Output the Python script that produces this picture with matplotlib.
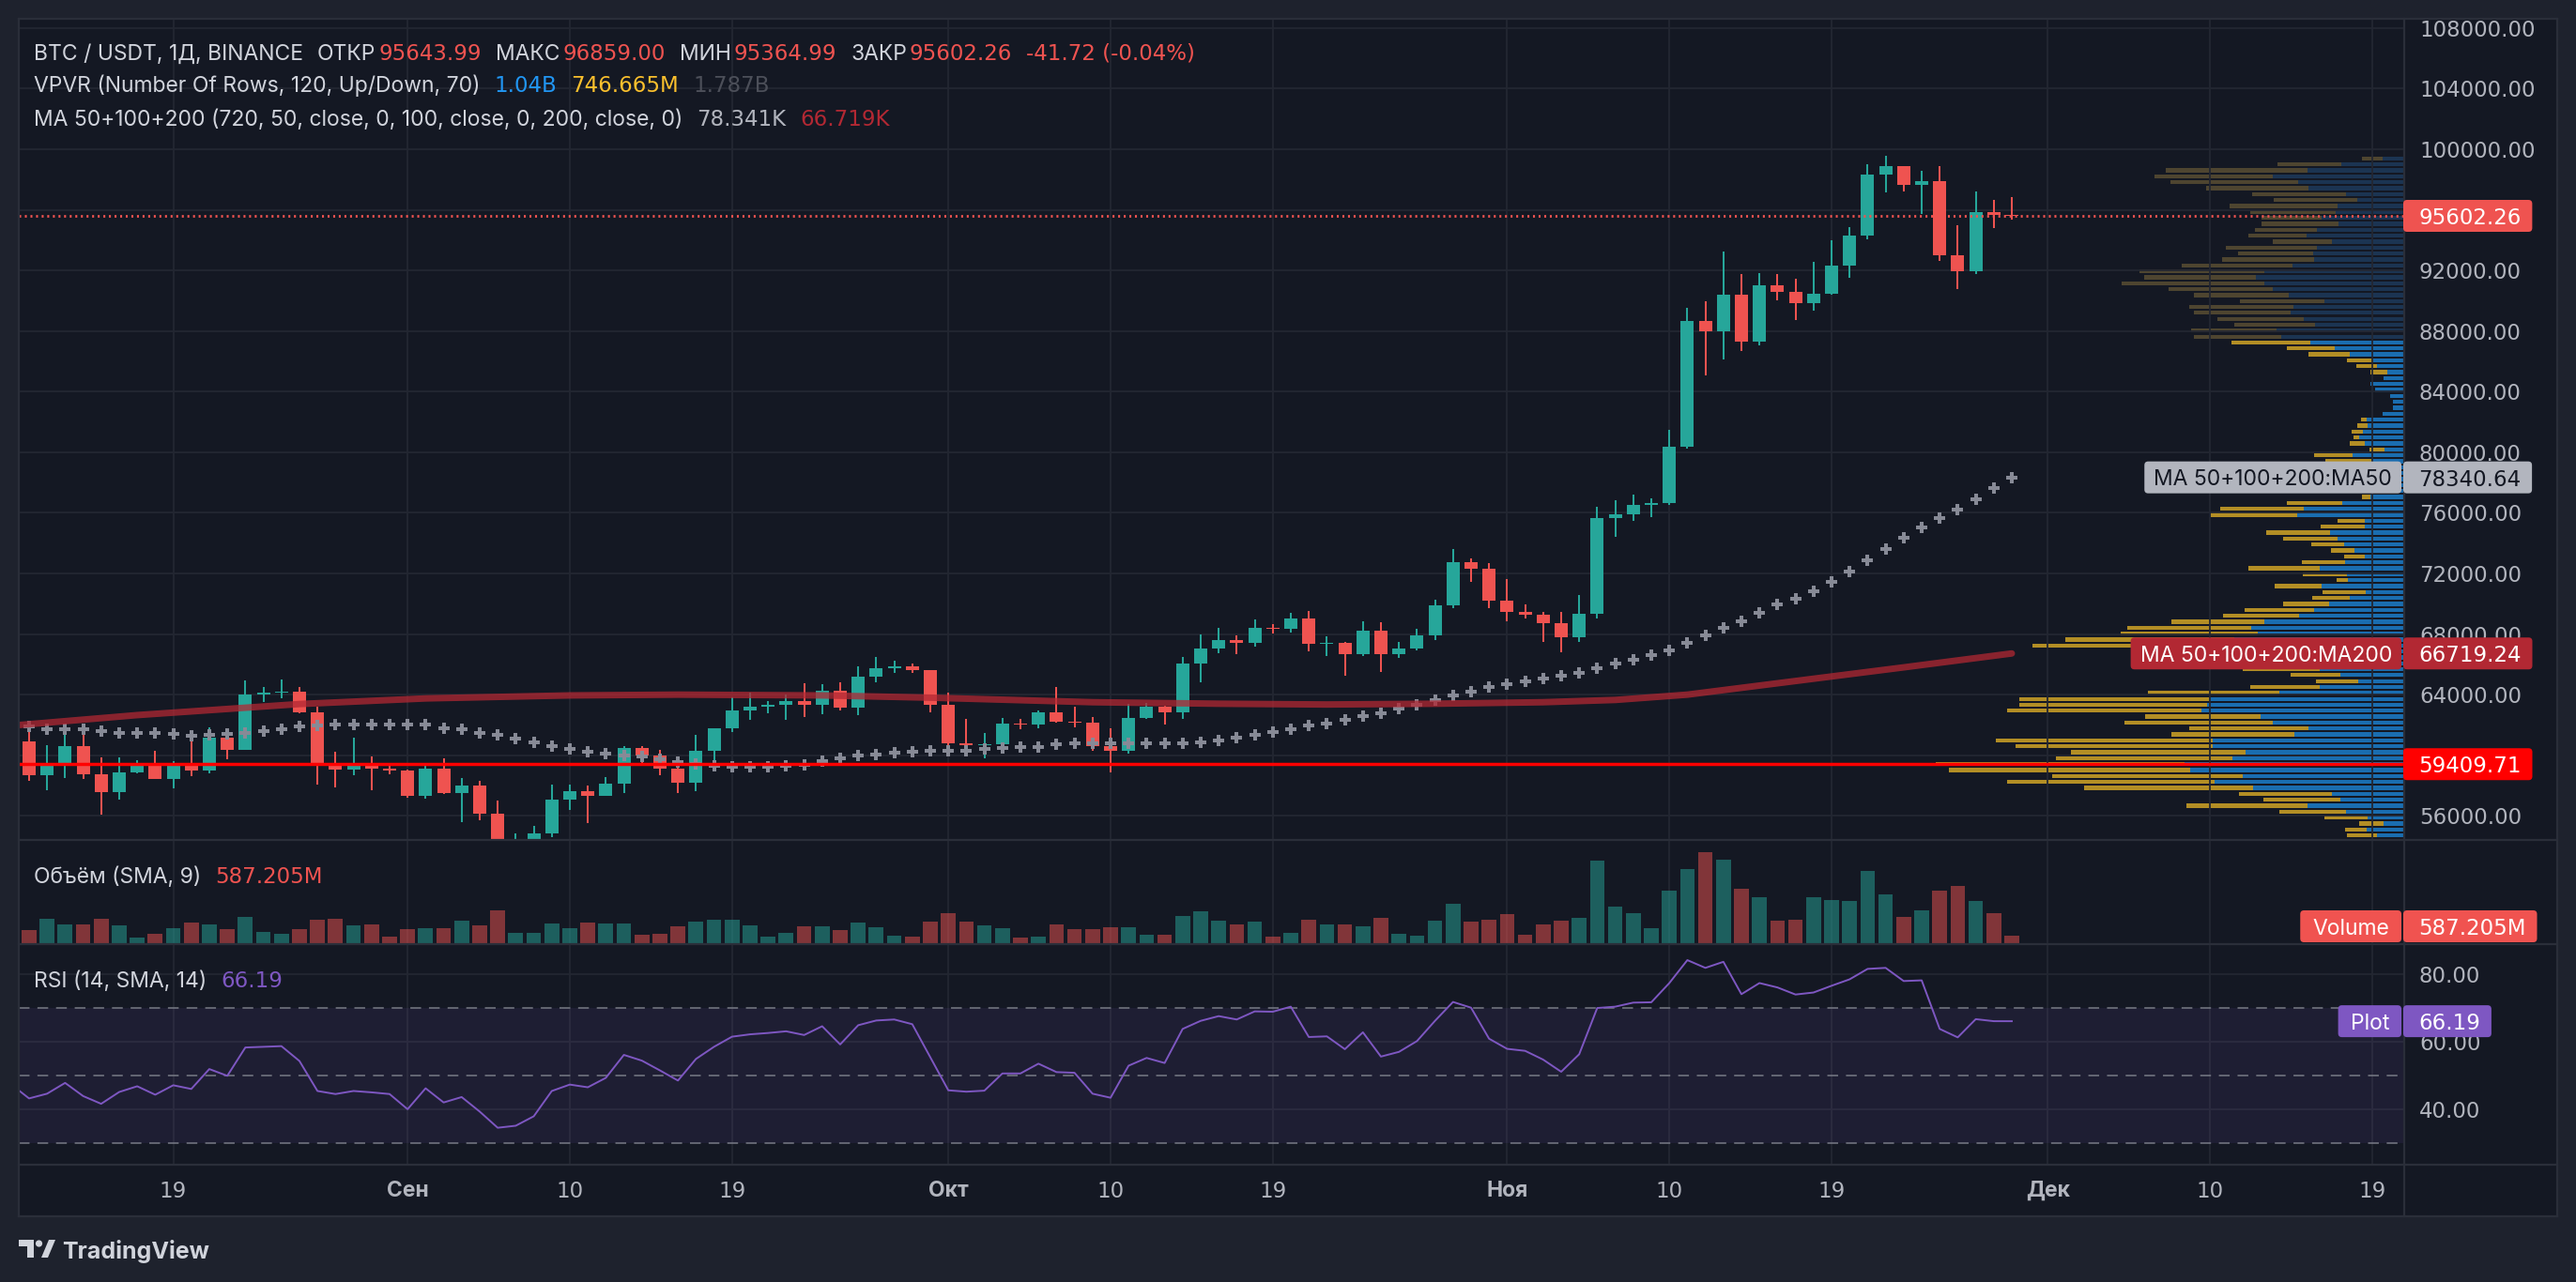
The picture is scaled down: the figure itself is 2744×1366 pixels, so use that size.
import numpy as np
import pandas as pd
import matplotlib
matplotlib.use('Agg')
import matplotlib.pyplot as plt
import matplotlib.dates as mdates
from matplotlib.patches import FancyBboxPatch, Rectangle, Polygon, Circle
from matplotlib.lines import Line2D
from matplotlib.transforms import IdentityTransform

plt.rcParams['font.family'] = ['Inter', 'DejaVu Sans']

W, H = 2744, 1366
FS = 16.5
NUM = ['DejaVu Sans']   # wide digits, closer to the original UI font

# ---------------- data (BTC/USDT daily, 2024-08-11 .. 2024-11-29) ----------------
opens = [60932, 58713, 59351, 60609, 58737, 57561, 58874, 59491, 58427, 59438,
         59013, 61156, 60375, 64037, 64157, 64220, 62834, 59415, 59034, 59359,
         59123, 58974, 57301, 59132, 57487, 57971, 56160, 53962, 54160, 54869,
         57042, 57635, 57338, 58132, 60498, 59993, 59132, 58213, 60309, 61759,
         62947, 63201, 63348, 63578, 63339, 64262, 63152, 65173, 65769, 65858,
         65602, 63327, 60805, 60649, 60752, 62086, 62058, 62819, 62224, 62131,
         60583, 60275, 62445, 63193, 62851, 66046, 67041, 67612, 67399, 68418,
         68362, 69001, 67368, 67400, 66653, 68198, 66699, 67045, 67929, 69908,
         72720, 72340, 70216, 69482, 69289, 68742, 67811, 69359, 75640, 75905,
         76538, 76649, 80370, 88648, 87952, 90375, 87325, 91032, 90587, 89855,
         90465, 92310, 94286, 98318, 98893, 97673, 97900, 93010, 91965, 95863,
         95643.99]
highs = [61858, 60680, 61572, 61800, 59850, 59850, 59700, 60284, 59617, 61400,
         61820, 61400, 64955, 64494, 65000, 64481, 63213, 60234, 61166, 59944,
         59462, 59076, 59425, 59809, 58519, 58300, 56995, 54850, 55318, 58088,
         58044, 57981, 58588, 60625, 60610, 60381, 59210, 61320, 61786, 63850,
         64133, 63559, 64000, 64745, 64688, 64817, 65839, 66498, 66260, 66076,
         65618, 64130, 62370, 61470, 62484, 62370, 62975, 64478, 63200, 62508,
         61750, 63417, 63480, 63276, 66500, 67950, 68424, 67939, 68969, 68668,
         69400, 69500, 67836, 67472, 68850, 68800, 67454, 68332, 70270, 73620,
         72962, 72700, 71632, 69934, 69483, 69433, 70577, 76400, 76850, 77199,
         76955, 81500, 89530, 89940, 93265, 91790, 91850, 91779, 91449, 92595,
         94002, 94831, 98988, 99588, 98899, 98564, 98871, 94973, 97208, 96650,
         96859.00]
lows = [58286, 57688, 58506, 58433, 56078, 57098, 58785, 58408, 57787, 58610,
        58783, 59724, 60342, 63531, 63773, 62800, 58034, 57860, 58713, 57701,
        58744, 57201, 57128, 57415, 55606, 55712, 52550, 53745, 53629, 54591,
        56386, 55545, 57324, 57493, 59400, 58696, 57493, 57610, 59174, 61555,
        62350, 62758, 62357, 62538, 62700, 62947, 62670, 64819, 65422, 65432,
        62857, 60164, 59982, 59828, 60459, 61689, 61798, 62128, 61860, 60314,
        58895, 60087, 62414, 62034, 62422, 64800, 66750, 66666, 67177, 68020,
        68100, 66835, 66571, 65260, 66559, 65500, 66439, 66913, 67618, 69730,
        71436, 69685, 68820, 69000, 67458, 66803, 67458, 69050, 74416, 75463,
        75700, 76492, 80216, 85072, 86127, 86668, 87073, 90056, 88722, 89376,
        90406, 91500, 94040, 97122, 97216, 95734, 92600, 90791, 91792, 94827,
        95364.99]
closes = [58713, 59351, 60609, 58737, 57561, 58874, 59491, 58427, 59438, 59013,
          61156, 60375, 64037, 64157, 64220, 62834, 59415, 59034, 59359, 59123,
          58974, 57301, 59132, 57487, 57971, 56160, 53962, 54160, 54869, 57042,
          57635, 57338, 58132, 60498, 59993, 59132, 58213, 60309, 61759, 62947,
          63201, 63348, 63578, 63339, 64262, 63152, 65173, 65769, 65858, 65602,
          63327, 60805, 60649, 60752, 62086, 62058, 62819, 62224, 62131, 60583,
          60275, 62445, 63193, 62851, 66046, 67041, 67612, 67399, 68418, 68362,
          69001, 67368, 67400, 66653, 68198, 66699, 67045, 67929, 69907, 72720,
          72340, 70215, 69482, 69289, 68741, 67811, 69360, 75640, 75905, 76538,
          76649, 80370, 88648, 87952, 90375, 87325, 91032, 90586, 89855, 90464,
          92310, 94286, 98318, 98893, 97673, 97900, 93010, 91965, 95863, 95643.98,
          95602.26]
# volume, millions
volumes = [1028, 1909, 1468, 1468, 1909, 1395, 440, 734, 1175, 1615,
           1468, 1101, 2055, 881, 734, 1101, 1835, 1909, 1395, 1468,
           514, 1101, 1175, 1175, 1762, 1395, 2569, 808, 808, 1542,
           1175, 1615, 1542, 1542, 661, 734, 1321, 1688, 1835, 1835,
           1395, 514, 808, 1321, 1321, 1028, 1615, 1248, 587, 514,
           1688, 2349, 1688, 1395, 1175, 440, 514, 1468, 1101, 1101,
           1248, 1248, 661, 661, 2129, 2496, 1762, 1468, 1688, 514,
           808, 1835, 1468, 1468, 1321, 1982, 734, 587, 1762, 3083,
           1688, 1835, 2276, 661, 1468, 1762, 1982, 6460, 2863, 2349,
           1175, 4111, 5799, 7121, 6533, 4258, 3597, 1762, 1835, 3597,
           3377, 3303, 5653, 3817, 2055, 2569, 4111, 4478, 3303, 2349,
           587.205]
ma50 = [61900, 61700, 61700, 61700, 61600, 61500, 61500, 61450, 61400, 61300,
        61350, 61400, 61500, 61600, 61700, 61900, 61950, 62000, 62000, 62050,
        62050, 62050, 62000, 61800, 61700, 61500, 61350, 61100, 60850, 60600,
        60400, 60250, 60100, 60000, 59900, 59750, 59550, 59420, 59330, 59220,
        59220, 59220, 59280, 59390, 59590, 59800, 59960, 60020, 60170, 60250,
        60310, 60310, 60310, 60410, 60450, 60510, 60570, 60700, 60760, 60770,
        60780, 60770, 60760, 60760, 60760, 60860, 61000, 61190, 61370, 61540,
        61740, 61970, 62120, 62350, 62610, 62770, 63050, 63340, 63650, 63960,
        64220, 64510, 64680, 64880, 65060, 65260, 65430, 65740, 66050, 66300,
        66620, 66930, 67400, 67900, 68390, 68860, 69410, 69930, 70340, 70830,
        71450, 72130, 72870, 73620, 74360, 75040, 75650, 76210, 76890, 77630,
        78340.64]
ma200_days = ['2024-08-10', '2024-08-17', '2024-08-26', '2024-09-02', '2024-09-10',
              '2024-09-16', '2024-09-24', '2024-09-30', '2024-10-09', '2024-10-16',
              '2024-10-22', '2024-10-28', '2024-11-03', '2024-11-07', '2024-11-11',
              '2024-11-15', '2024-11-19', '2024-11-23', '2024-11-29']
ma200_vals = [61950, 62650, 63380, 63750, 63950, 64000, 63950, 63800, 63500, 63400,
              63350, 63400, 63500, 63650, 64000, 64600, 65200, 65800, 66719.24]
# RSI from 2024-08-10
rsi = [47.5,
       43.3, 44.7, 47.9, 44.0, 41.7, 45.2, 46.9, 44.4, 47.2, 46.1,
       52.0, 50.0, 58.4, 58.6, 58.8, 54.4, 45.5, 44.6, 45.5, 45.1,
       44.6, 40.1, 46.3, 42.1, 43.7, 39.4, 34.6, 35.2, 38.0, 45.5,
       47.4, 46.6, 49.4, 56.2, 54.5, 51.6, 48.6, 55.0, 58.6, 61.6,
       62.3, 62.7, 63.2, 62.1, 64.7, 59.3, 65.0, 66.4, 66.7, 65.3,
       55.5, 45.7, 45.3, 45.6, 50.7, 50.7, 53.6, 51.1, 50.9, 44.7,
       43.5, 53.0, 55.3, 53.8, 63.9, 66.3, 67.7, 66.7, 69.1, 69.0,
       70.5, 61.5, 61.7, 57.9, 62.9, 55.7, 57.1, 60.3, 66.3, 71.9,
       70.2, 61.0, 58.0, 57.4, 54.8, 51.2, 56.4, 70.1, 70.5, 71.7,
       71.8, 77.5, 84.3, 82.0, 83.8, 74.2, 77.5, 76.2, 74.1, 74.7,
       76.7, 78.6, 81.7, 82.0, 78.1, 78.3, 63.9, 61.4, 66.8, 66.2,
       66.19]
# volume profile, 120 rows from low to high (relative units)
vp_up = [40, 60, 90, 120, 100, 71, 97, 54, 95, 151,
         251, 166, 187, 392, 492, 419, 555, 570, 446, 411,
         497, 497, 285, 248, 341, 373, 526, 512, 507, 324,
         219, 119, 166, 220, 270, 300, 320, 470, 440, 380,
         397, 363, 273, 234, 194, 141, 100, 214, 146, 149,
         219, 153, 102, 129, 156, 173, 192, 102, 102, 278,
         261, 161, 88, 90, 80, 100, 85, 95, 85, 134,
         51, 102, 117, 107, 94, 97, 56, 29, 29, 37,
         75, 88, 54, 44, 71, 80, 141, 180, 243, 319,
         331, 231, 261, 295, 287, 207, 299, 341, 363, 385,
         364, 290, 234, 236, 226, 187, 253, 226, 170, 215,
         178, 173, 122, 152, 248, 275, 341, 251, 163, 56]
vp_down = [50, 70, 100, 110, 90, 78, 56, 63, 112, 173,
           314, 199, 242, 438, 538, 494, 625, 645, 457, 453,
           511, 562, 319, 310, 385, 299, 504, 486, 491, 341,
           180, 110, 129, 200, 250, 270, 300, 494, 439, 355,
           321, 241, 197, 180, 120, 98, 112, 122, 29, 114,
           185, 112, 54, 61, 85, 141, 166, 115, 71, 224,
           216, 143, 22, 40, 30, 45, 35, 50, 120, 100,
           39, 39, 14, 29, 28, 15, 0, 0, 0, 0,
           0, 0, 0, 44, 53, 69, 107, 124, 205, 226,
           222, 210, 224, 250, 271, 219, 246, 270, 370, 289,
           323, 287, 238, 195, 237, 154, 151, 161, 200, 155,
           221, 280, 216, 242, 266, 331, 307, 367, 166, 54]
va_low, va_high = 52550, 87440
support_level = 59409.71

tick_days = ['2024-08-19', '2024-09-01', '2024-09-10', '2024-09-19', '2024-10-01',
             '2024-10-10', '2024-10-19', '2024-11-01', '2024-11-10', '2024-11-19',
             '2024-12-01', '2024-12-10', '2024-12-19']
tick_labels = ['19', 'Сен', '10', '19', 'Окт', '10', '19', 'Ноя', '10', '19', 'Дек', '10', '19']
price_ticks = list(range(56000, 108001, 4000))
rsi_ticks = [40, 60, 80]

# ---------------- colours ----------------
BG_PAGE = '#1e222d'
BG_PANE = '#141823'
GRID = '#232732'
SEP = '#2a2e39'
TXT = '#d1d4dc'
AXTXT = '#b2b5be'
UP = '#26a69a'
DN = '#ef5350'

opens = np.array(opens, float); highs = np.array(highs, float)
lows = np.array(lows, float); closes = np.array(closes, float)
days = pd.date_range('2024-08-11', periods=len(closes), freq='D')
x = mdates.date2num(days)
x_rsi = mdates.date2num(pd.date_range('2024-08-10', periods=len(rsi), freq='D'))
x_ma200 = mdates.date2num(pd.to_datetime(ma200_days))
x_ticks = mdates.date2num(pd.to_datetime(tick_days))


def rect(x0, y0, x1, y1):
    return [x0 / W, 1 - y1 / H, (x1 - x0) / W, (y1 - y0) / H]


fig = plt.figure(figsize=(W / 100, H / 100), dpi=100, facecolor=BG_PAGE)
fig.add_artist(Rectangle((20, H - 1296), 2704, 1276, transform=IdentityTransform(),
                         fc=BG_PANE, ec='none', zorder=-5))

ax_vp = fig.add_axes(rect(20, 20, 2561, 894), zorder=0, facecolor=BG_PANE)
ax = fig.add_axes(rect(20, 20, 2561, 894), zorder=1, facecolor='none')
ax_vol = fig.add_axes(rect(20, 896, 2561, 1004.5), sharex=ax, facecolor=BG_PANE)
ax_rsi = fig.add_axes(rect(20, 1007, 2561, 1240), sharex=ax, facecolor=BG_PANE)

xmin, xmax = x[0] - 0.57, x[0] + 131.77
pmin, pmax = 54470, 108611

# ---- volume profile (behind) ----
nrows = len(vp_up)
step = (highs.max() - lows.min()) / nrows
centers = lows.min() + (np.arange(nrows) + 0.5) * step
bright = (centers >= va_low) & (centers <= va_high)
up_col = np.where(bright, '#1a6db0', '#1b3452')
dn_col = np.where(bright, '#b38e25', '#4e4530')
ax_vp.barh(centers, vp_up, height=step * 0.68, left=0, color=up_col, lw=0)
ax_vp.barh(centers, vp_down, height=step * 0.68, left=vp_up, color=dn_col, lw=0)
ax_vp.set_xlim(2541 * 2.435, 0)
ax_vp.set_ylim(pmin, pmax)
ax_vp.axis('off')

# ---- candles ----
cols = np.where(closes >= opens, UP, DN)
ax.vlines(x, lows, highs, colors=cols, lw=1.45, zorder=3)
mid = (opens + closes) / 2
bh = np.maximum(np.abs(closes - opens), 70)
ax.bar(x, bh, width=0.73, bottom=mid - bh / 2, color=cols, lw=0, zorder=4)

ax.plot(x, ma50, ls='none', marker='P', ms=8.6, mew=0, color='#878a96', zorder=5)
ax.plot(x_ma200, ma200_vals, color='#b22833', alpha=0.75, lw=5,
        solid_capstyle='round', solid_joinstyle='round', zorder=6)
ax.axhline(closes[-1], color=DN, lw=2.0, ls=(0, (0.75, 1.4)), zorder=7)
ax.axhline(support_level, color='#ff0000', lw=2.5, zorder=8)

ax.set_xlim(xmin, xmax)
ax.set_ylim(pmin, pmax)
ax.set_xticks(x_ticks)
ax.grid(True, color=GRID, lw=1.3)
ax.set_axisbelow(True)
ax.tick_params(axis='x', length=0, labelbottom=False)

# price tick labels; the ones hidden by a value tag are left blank
tag_levels = [closes[-1], ma50[-1], ma200_vals[-1], support_level]
px_per_price = 874 / (pmax - pmin)
ylabs = []
for t in price_ticks:
    near = min(abs(t - v) for v in tag_levels) * px_per_price
    ylabs.append('' if near < 15 else f'{t:.2f}')
ax.set_yticks(price_ticks)
ax.set_yticklabels(ylabs, family=NUM)
ax.tick_params(axis='y', left=False, right=True, labelleft=False, labelright=True,
               length=0, pad=11.5, labelsize=FS, labelcolor=AXTXT)

# ---- volume pane ----
vcols = [(0.149, 0.651, 0.604, 0.5) if c >= o else (0.937, 0.325, 0.314, 0.5)
         for o, c in zip(opens, closes)]
ax_vol.bar(x, volumes, width=0.82, color=vcols, lw=0)
ax_vol.set_ylim(0, max(volumes) * 1.124)
ax_vol.grid(True, axis='x', color=GRID, lw=1.3)
ax_vol.set_axisbelow(True)
ax_vol.tick_params(axis='both', length=0, labelbottom=False, labelleft=False)
ax_vol.set_yticks([])

# ---- RSI pane ----
ax_rsi.axhspan(30, 70, color='#7e57c2', alpha=0.1, lw=0)
for lvl in (70, 50, 30):
    ax_rsi.axhline(lvl, color='#787b86', lw=1.1, ls=(0, (7.5, 5.5)))
ax_rsi.plot(x_rsi, rsi, color='#7e57c2', lw=1.4, zorder=5)
ax_rsi.set_ylim(23.93, 88.76)
ax_rsi.set_yticks(rsi_ticks)
ax_rsi.set_yticklabels([f'{t:.2f}' for t in rsi_ticks], family=NUM)
ax_rsi.grid(True, color=GRID, lw=1.3)
ax_rsi.set_axisbelow(True)
ax_rsi.tick_params(axis='y', left=False, right=True, labelleft=False, labelright=True,
                   length=0, pad=11.5, labelsize=FS, labelcolor=AXTXT)
ax_rsi.set_xticks(x_ticks)
ax_rsi.set_xticklabels(tick_labels)
ax_rsi.tick_params(axis='x', length=0, pad=13, labelsize=FS, labelcolor=AXTXT)
for lab in ax_rsi.get_xticklabels():
    if lab.get_text().isdigit():
        lab.set_fontfamily(NUM)
    else:
        lab.set_fontweight('bold')
ax_rsi.set_xlim(xmin, xmax)

for a in (ax, ax_vp, ax_vol, ax_rsi):
    for s in a.spines.values():
        s.set_visible(False)

# ---- pane separators ----
def hsep(y, x0=20, x1=2724, lw=1.6):
    fig.add_artist(Line2D([x0, x1], [H - y, H - y], transform=IdentityTransform(),
                          color=SEP, lw=lw, zorder=5))

def vsep(xp, y0=20, y1=1296, lw=1.6):
    fig.add_artist(Line2D([xp, xp], [H - y0, H - y1], transform=IdentityTransform(),
                          color=SEP, lw=lw, zorder=5))

for yy in (20, 895, 1006, 1241, 1296):
    hsep(yy)
for xx in (20, 2561, 2724):
    vsep(xx)

# ---- texts ----
renderer = fig.canvas.get_renderer()

def put(xd, yd, s, color, size=FS, **kw):
    return fig.text(xd, yd, s, color=color, fontsize=size, va='center_baseline',
                    transform=IdentityTransform(), **kw)

def seq(xd, ytop, pieces):
    yd = H - ytop
    for s, color, gap, num in pieces:
        kw = {'family': NUM} if num else {}
        t = put(xd, yd, s, color, zorder=15, **kw)
        xd = t.get_window_extent(renderer).x1 + gap

def tag(xd, yd, s, fc, tc, ha='left', padl=16, padr=12, h=34, num=True):
    kw = {'family': NUM} if num else {}
    t = put(xd, yd, s, tc, ha=ha, zorder=21, **kw)
    bb = t.get_window_extent(renderer)
    fig.add_artist(FancyBboxPatch((bb.x0 - padl, yd - h / 2), bb.width + padl + padr, h,
                                  boxstyle='round,pad=0,rounding_size=4',
                                  transform=IdentityTransform(), fc=fc, ec='none', zorder=20))

red = DN
chg = closes[-1] - closes[-2]
pct = chg / closes[-2] * 100
seq(36, 55, [('BTC / USDT, 1Д, BINANCE', TXT, 15, False),
             ('ОТКР', TXT, 3, False), (f'{opens[-1]:.2f}', red, 15, True),
             ('МАКС', TXT, 3, False), (f'{highs[-1]:.2f}', red, 15, True),
             ('МИН', TXT, 3, False), (f'{lows[-1]:.2f}', red, 15, True),
             ('ЗАКР', TXT, 3, False), (f'{closes[-1]:.2f}', red, 15, True),
             (f'{chg:.2f} ({pct:.2f}%)', red, 0, True)])
seq(36, 89, [('VPVR (Number Of Rows, 120, Up/Down, 70)', TXT, 15, False),
             ('1.04B', '#2196f3', 15, True), ('746.665M', '#fbc02d', 15, True),
             ('1.787B', '#4c4f59', 0, True)])
seq(36, 125, [('MA 50+100+200 (720, 50, close, 0, 100, close, 0, 200, close, 0)', TXT, 15, False),
              (f'{ma50[-1] / 1000:.3f}K', AXTXT, 15, True),
              (f'{ma200_vals[-1] / 1000:.3f}K', '#b22833', 0, True)])
seq(36, 932, [('Объём (SMA, 9)', TXT, 15, False), (f'{volumes[-1]:.3f}M', red, 0, True)])
seq(36, 1043, [('RSI (14, SMA, 14)', TXT, 15, False), (f'{rsi[-1]:.2f}', '#7e57c2', 0, True)])

def py(a, v):
    return a.transData.transform((xmin, v))[1]

XV = 2576
tag(XV, py(ax, closes[-1]), f'{closes[-1]:.2f}', DN, 'white')
y50 = py(ax, ma50[-1])
tag(XV, y50, f'{ma50[-1]:.2f}', '#b2b5be', '#131722')
tag(2548, y50, 'MA 50+100+200:MA50', '#b2b5be', '#131722', ha='right', padl=10, padr=10, num=False)
y200 = py(ax, ma200_vals[-1])
tag(XV, y200, f'{ma200_vals[-1]:.2f}', '#b22833', 'white')
tag(2548, y200, 'MA 50+100+200:MA200', '#b22833', 'white', ha='right', padl=10, padr=10, num=False)
tag(XV, py(ax, support_level), f'{support_level:.2f}', '#ff0000', 'white')
yv = max(py(ax_vol, volumes[-1]), (H - 1004) + 17)
tag(XV, yv, f'{volumes[-1]:.3f}M', '#f05350', 'white')
tag(2545, yv, 'Volume', '#f05350', 'white', ha='right', padl=13, padr=13, num=False)
yr = py(ax_rsi, rsi[-1])
tag(XV, yr, f'{rsi[-1]:.2f}', '#7e57c2', 'white')
tag(2545, yr, 'Plot', '#7e57c2', 'white', ha='right', padl=13, padr=13, num=False)

# ---- TradingView logo ----
LOGO = '#d1d4dc'
idt = IdentityTransform()
fig.add_artist(Rectangle((20, H - 1328), 16, 7, transform=idt, fc=LOGO, ec='none'))
fig.add_artist(Rectangle((29, H - 1340), 7, 19, transform=idt, fc=LOGO, ec='none'))
fig.add_artist(Circle((41.5, H - 1325), 3.6, transform=idt, fc=LOGO, ec='none'))
fig.add_artist(Polygon([(44, H - 1340), (51, H - 1340), (59, H - 1321), (52, H - 1321)],
                       closed=True, transform=idt, fc=LOGO, ec='none'))
put(66, H - 1331, 'TradingView', LOGO, size=18, fontweight='bold')

fig.savefig('out.png', dpi=100, facecolor=BG_PAGE)
